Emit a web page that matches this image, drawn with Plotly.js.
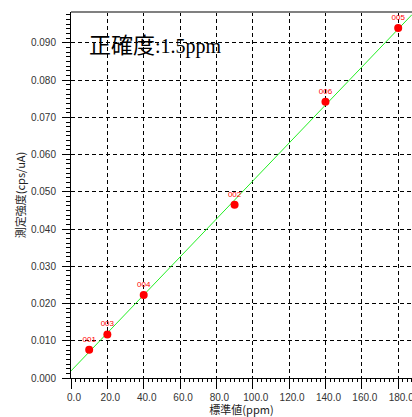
<!DOCTYPE html>
<html>
<head>
<meta charset="utf-8">
<script src="https://cdn.plot.ly/plotly-3.0.1.min.js"></script>
<style>
html,body{margin:0;padding:0;background:#fff;}
#chart{width:412px;height:417px;}
</style>
</head>
<body>
<div id="chart"></div>
<script>
// Data
const sampleNames = ['001', '003', '004', '002', '006', '005'];
const standardValues = [10, 20, 40, 90, 140, 180];          // 標準値 (ppm)
const measuredIntensity = [0.0076, 0.0117, 0.0223, 0.0465, 0.0742, 0.0940]; // 測定強度 (cps/uA)
const fitLineX = [0, 187.6];
const fitLineY = [0.0019, 0.0976];
const xTickVals = [0, 20, 40, 60, 80, 100, 120, 140, 160, 180];
const xTickText = ['0.0', '20.0', '40.0', '60.0', '80.0', '100.0', '120.0', '140.0', '160.0', '180.0'];
const yTickVals = [0, 0.01, 0.02, 0.03, 0.04, 0.05, 0.06, 0.07, 0.08, 0.09];
const yTickText = ['0.000', '0.010', '0.020', '0.030', '0.040', '0.050', '0.060', '0.070', '0.080', '0.090'];
const accuracyLabel = '<span style="font-family:\'Noto Sans CJK JP\';font-size:22px">正確度</span>:1.5ppm';

const xRange = [0, 187.6];
const yRange = [0, 0.0983];
const tickFont = {family: 'Liberation Sans, Arial, sans-serif', size: 10, color: '#333'};

const traces = [
  {
    x: fitLineX, y: fitLineY, mode: 'lines', type: 'scatter',
    line: {color: '#22ee22', width: 1}, hoverinfo: 'skip', showlegend: false
  },
  {
    x: standardValues, y: measuredIntensity, mode: 'markers+text', type: 'scatter',
    text: sampleNames, textposition: 'top center',
    textfont: {family: 'Liberation Sans, Arial, sans-serif', size: 8, color: '#ff0000'},
    marker: {color: '#ff0000', size: 8}, showlegend: false
  }
];

const layout = {
  width: 412, height: 417,
  margin: {l: 71, r: 0, t: 12, b: 39},
  paper_bgcolor: '#fff', plot_bgcolor: '#fff',
  showlegend: false,
  xaxis: {
    range: xRange, tickmode: 'array', tickvals: xTickVals, ticktext: xTickText,
    ticks: 'outside', ticklen: 10, tickcolor: '#000', tickwidth: 1,
    ticklabelshift: 3, ticklabelstandoff: 0, ticklabeloverflow: 'allow',
    showline: true, linecolor: '#000', linewidth: 1,
    showgrid: true, gridcolor: '#000', gridwidth: 1, griddash: '4px,3px',
    zeroline: false, tickfont: tickFont,
    minor: {dtick: 2.5, tick0: 0, ticks: 'outside', ticklen: 3, tickcolor: '#000', showgrid: false},
    title: {text: '標準値(ppm)', font: {family: 'Noto Sans CJK JP, sans-serif', size: 11, color: '#222'}, standoff: 0}
  },
  yaxis: {
    range: yRange, tickmode: 'array', tickvals: yTickVals, ticktext: yTickText,
    ticks: 'outside', ticklen: 8, tickcolor: '#000', tickwidth: 1,
    ticklabelstandoff: 4,
    showline: true, linecolor: '#000', linewidth: 1,
    showgrid: true, gridcolor: '#000', gridwidth: 1, griddash: '4px,3px',
    zeroline: false, tickfont: tickFont,
    minor: {dtick: 0.00125, tick0: 0, ticks: 'outside', ticklen: 4, tickcolor: '#000', showgrid: false},
    title: {text: '測定強度(cps/uA)', font: {family: 'Noto Sans CJK JP, sans-serif', size: 11, color: '#222'}, standoff: 3}
  },
  xaxis2: {
    overlaying: 'x', anchor: 'y', side: 'bottom', range: xRange,
    tickmode: 'linear', tick0: 0, dtick: 10, ticks: 'outside', ticklen: 6, tickcolor: '#000',
    showticklabels: false, showgrid: false, zeroline: false, showline: false
  },
  yaxis2: {
    overlaying: 'y', anchor: 'x', side: 'left', range: yRange,
    tickmode: 'linear', tick0: 0, dtick: 0.005, ticks: 'outside', ticklen: 6, tickcolor: '#000',
    showticklabels: false, showgrid: false, zeroline: false, showline: false
  },
  shapes: [
    {type: 'line', xref: 'paper', yref: 'paper', x0: 0, x1: 1, y0: 1, y1: 1,
     line: {color: '#808080', width: 2}}
  ],
  annotations: [
    {xref: 'paper', yref: 'y', x: 0.047, y: 0.09, xanchor: 'left', yanchor: 'middle',
     text: accuracyLabel, showarrow: false,
     font: {family: 'Liberation Serif, serif', size: 20, color: '#000'}}
  ]
};

Plotly.newPlot('chart', traces, layout, {displayModeBar: false, staticPlot: true});
</script>
</body>
</html>
